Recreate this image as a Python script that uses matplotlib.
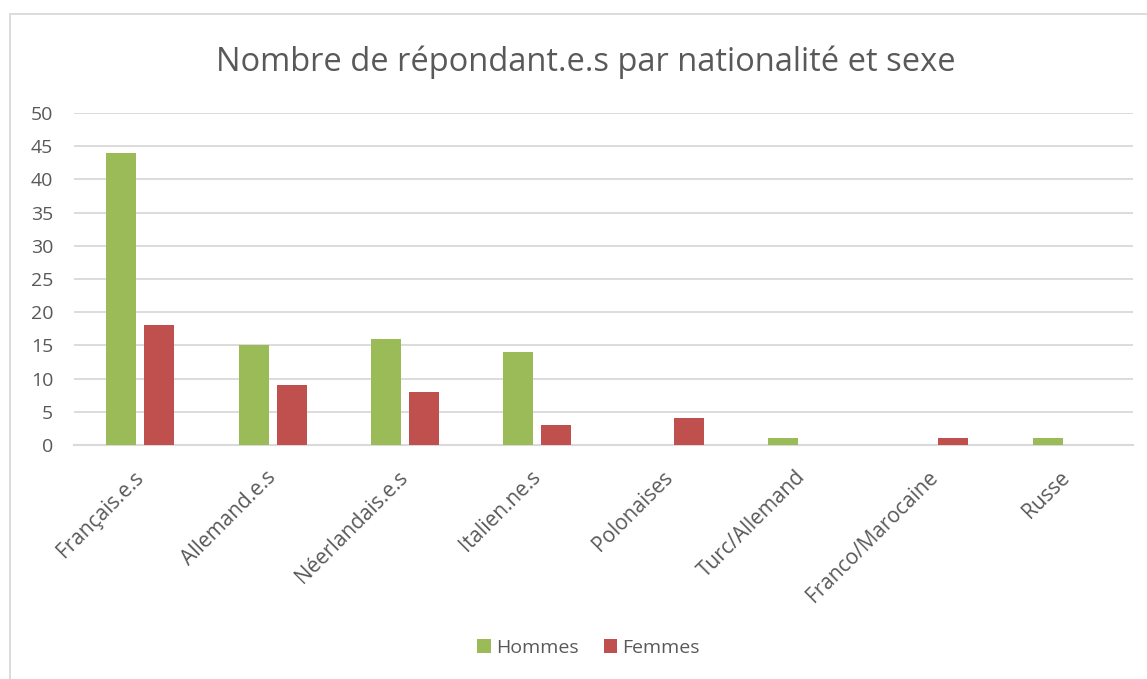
import numpy as np
import matplotlib.pyplot as plt
from matplotlib.patches import Rectangle

plt.rcParams['font.family'] = ['Open Sans', 'DejaVu Sans']

# data
nationalites = ['Français.e.s', 'Allemand.e.s', 'Néerlandais.e.s', 'Italien.ne.s',
                'Polonaises', 'Turc/Allemand', 'Franco/Marocaine', 'Russe']
hommes = [44, 15, 16, 14, 0, 1, 0, 1]
femmes = [18, 9, 8, 3, 4, 0, 1, 0]

vert = '#9BBB59'
rouge = '#C0504D'
gris_texte = '#595959'
gris_grille = '#D9D9D9'

fig = plt.figure(figsize=(11.47, 6.79), dpi=100, facecolor='white')
ax = fig.add_axes([0.0645, 0.3446, 0.9233, 0.489])

x = np.arange(len(nationalites))
largeur = 0.227
ecart = 0.06
ax.bar(x - (largeur + ecart) / 2, hommes, largeur, color=vert, label='Hommes', zorder=3)
ax.bar(x + (largeur + ecart) / 2, femmes, largeur, color=rouge, label='Femmes', zorder=3)

ax.set_xlim(-0.5, len(nationalites) - 0.5)
ax.set_ylim(0, 50)
ax.set_yticks(range(0, 51, 5))
ax.grid(axis='y', color=gris_grille, linewidth=1.3, zorder=0)
for s in ['top', 'right', 'left']:
    ax.spines[s].set_visible(False)
ax.spines['bottom'].set_color(gris_grille)
ax.spines['bottom'].set_linewidth(1.5)
ax.tick_params(axis='both', length=0, colors=gris_texte, labelsize=14)
ax.tick_params(axis='y', pad=15)
ax.set_xticks(x)
ax.set_xticklabels(nationalites, rotation=45, ha='right', va='center',
                   rotation_mode='anchor', fontsize=15)
ax.tick_params(axis='x', pad=21)

fig.text(0.511, 0.909, 'Nombre de répondant.e.s par nationalité et sexe',
         ha='center', va='center', fontsize=23.5, color=gris_texte)

fig.legend(loc='center', bbox_to_anchor=(0.513, 0.046), ncol=2, frameon=False,
           fontsize=14, labelcolor=gris_texte, handlelength=0.7, handleheight=0.7,
           handletextpad=0.25, columnspacing=1.3)

# chart border (cropped on right and bottom)
fig.patches.append(Rectangle((10 / 1147, -0.1), 1.2, 1 - 14 / 679 + 0.1,
                             transform=fig.transFigure, fill=False,
                             edgecolor=gris_grille, linewidth=1.3))

fig.savefig('out.png', dpi=100, facecolor='white')
